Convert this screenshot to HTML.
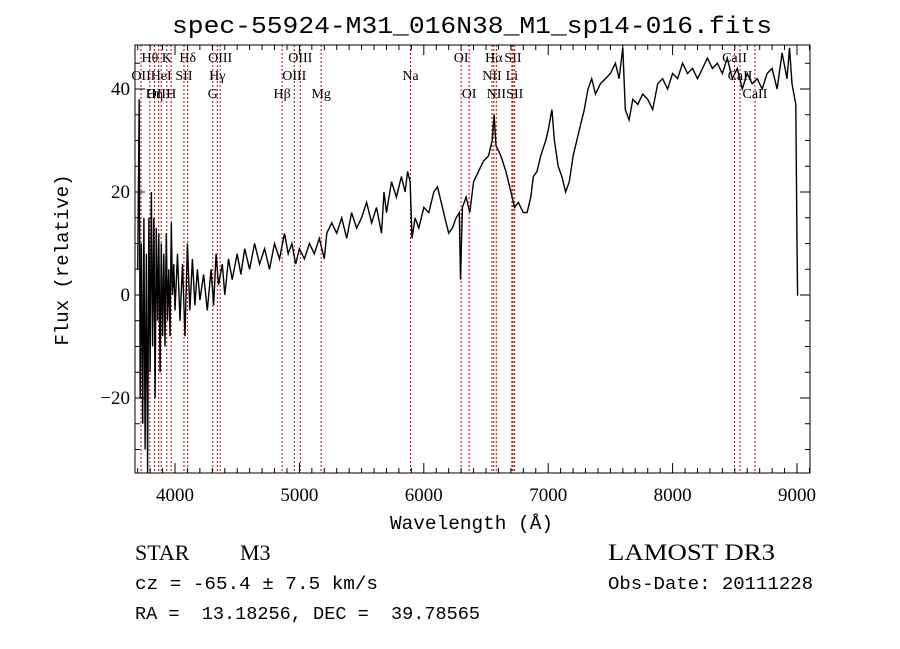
<!DOCTYPE html>
<html><head><meta charset="utf-8"><style>
body{margin:0;background:#fff}
svg{display:block}
.lab{font-family:"Liberation Serif",serif;font-size:14px;fill:#000}
.mono{font-family:"Liberation Mono",monospace;fill:#000}
.ser{font-family:"Liberation Serif",serif;fill:#000}
</style></head><body>
<svg id="c" width="900" height="649" xmlns="http://www.w3.org/2000/svg">
<rect width="900" height="649" fill="#fff"/>
<text class="mono" x="172" y="33" font-size="24" textLength="600" lengthAdjust="spacingAndGlyphs">spec-55924-M31_016N38_M1_sp14-016.fits</text>
<g id="lines"></g>
<g id="spec"></g>
<rect x="135" y="45" width="675" height="428" fill="none" stroke="#000" stroke-width="1"/>
<g id="ticks"></g>
<text class="mono" x="390" y="529" font-size="19" textLength="163" lengthAdjust="spacingAndGlyphs">Wavelength (Å)</text>
<text class="mono" x="68" y="260" font-size="19" text-anchor="middle" transform="rotate(-90 68 260)">Flux (relative)</text>
<text class="ser" x="135" y="560" font-size="22">STAR</text>
<text class="ser" x="240" y="560" font-size="22">M3</text>
<text class="mono" x="135" y="589" font-size="18" textLength="243" lengthAdjust="spacingAndGlyphs">cz = -65.4 ± 7.5 km/s</text>
<text class="mono" x="135" y="619" font-size="18" xml:space="preserve" textLength="345" lengthAdjust="spacingAndGlyphs">RA =  13.18256, DEC =  39.78565</text>
<text class="ser" x="608" y="560" font-size="23" textLength="167" lengthAdjust="spacingAndGlyphs">LAMOST DR3</text>
<text class="mono" x="608" y="589" font-size="18" textLength="205" lengthAdjust="spacingAndGlyphs">Obs-Date: 20111228</text>
</svg>
<script>
const wave=[3700,3712,3720,3730,3740,3750,3760,3770,3780,3790,3800,3810,3820,3830,3840,3850,3860,3870,3880,3890,3900,3910,3920,3930,3940,3950,3960,3970,3980,3990,4000,4020,4040,4060,4080,4100,4120,4140,4160,4180,4200,4230,4260,4290,4310,4330,4350,4380,4400,4430,4460,4500,4530,4560,4600,4640,4680,4720,4760,4800,4840,4880,4910,4940,4970,5000,5040,5080,5120,5160,5200,5220,5260,5300,5340,5380,5420,5460,5500,5540,5580,5620,5660,5680,5700,5740,5780,5820,5850,5870,5890,5905,5930,5960,6000,6040,6080,6110,6140,6170,6200,6230,6260,6285,6295,6310,6340,6370,6400,6440,6480,6520,6550,6565,6580,6620,6660,6700,6730,6760,6800,6830,6860,6880,6910,6940,6980,7000,7030,7050,7080,7110,7140,7170,7200,7230,7260,7290,7320,7350,7380,7420,7460,7500,7540,7570,7600,7620,7650,7680,7720,7760,7800,7840,7880,7920,7960,8000,8040,8080,8120,8160,8200,8240,8280,8320,8360,8400,8440,8480,8520,8560,8600,8640,8680,8720,8760,8800,8840,8880,8920,8940,8960,8990,9000,9005,9010];
const flux=[5,38,-20,10,-25,15,-30,8,-35,15,-15,20,-10,15,-20,13,-5,12,-15,10,-8,8,-10,12,-5,5,-8,14,0,6,-3,8,-5,6,-8,10,-3,7,-2,5,-1,4,-3,5,-2,8,2,6,0,7,3,8,4,9,5,10,6,9,5,10,7,12,8,10,6,9,7,10,8,11,7,12,14,12,15,11,16,13,15,18,14,17,12,20,16,22,19,23,20,24,22,11,15,13,17,16,20,21,18,15,12,13,15,16,3,17,19,16,22,24,26,27,30,35,29,27,24,20,17,18,16,16,19,23,24,27,30,32,36,30,25,23,20,22,27,30,33,36,40,42,39,41,42,43,45,42,48,36,34,38,37,39,38,36,41,42,40,43,42,45,43,44,42,44,46,44,45,43,46,42,44,40,43,41,42,40,43,44,40,47,42,48,41,37,10,0,0];
const lineWave=[3727,3798,3835,3869,3889,3934,3969,4072,4102,4304,4340,4363,4861,4959,5007,5175,5893,6300,6364,6548,6563,6583,6708,6717,6731,8498,8542,8662];
const lineNames=["OII","Hθ","Hη","OIII","HeI","K","H","SII","Hδ","G","Hγ","OIII","Hβ","OIII","OIII","Mg","Na","OI","OI","NII","Hα","NII","Li","SII","SII","CaII","CaII","CaII"];
const lineRow=[1,0,2,2,1,0,2,1,0,2,1,0,2,1,0,2,1,0,2,1,0,2,1,0,2,0,1,2];
const xTicks=[4000,5000,6000,7000,8000,9000];
const yTicks=[-20,0,20,40];
const X0=135,X1=810,Y0=45,Y1=473;
const xs=w=>175+(w-4000)*0.1244;
const ys=f=>295-f*5.15;
const NS="http://www.w3.org/2000/svg";
function mk(t,a,p){const e=document.createElementNS(NS,t);for(const k in a)e.setAttribute(k,a[k]);p.appendChild(e);return e;}
const gl=document.getElementById('lines');
lineWave.forEach((w,i)=>{
  const l=mk('line',{x1:xs(w),x2:xs(w),y1:Y0,y2:Y1,stroke:'#c00000','stroke-width':1,'stroke-dasharray':'2,2'},gl);
  
  
  const t=mk('text',{x:xs(w),y:62+lineRow[i]*18,'text-anchor':'middle',class:'lab'},gl);
  t.textContent=lineNames[i];
  
  
});
const gs=document.getElementById('spec');
let pts=[];
for(let i=0;i<wave.length;i++){let y=Math.max(Y0,Math.min(Y1,ys(flux[i])));pts.push(xs(wave[i]).toFixed(1)+','+y.toFixed(1));}
const pl=mk('polyline',{points:pts.join(' '),fill:'none',stroke:'#000','stroke-width':1.4,'stroke-linejoin':'miter'},gs);


const gt=document.getElementById('ticks');
for(let w=3700;w<=9100;w+=100){const x=xs(w);if(x<X0||x>X1)continue;const major=w%1000===0;const L=major?10:5;
  mk('line',{x1:x,x2:x,y1:Y1,y2:Y1-L,stroke:'#000'},gt);mk('line',{x1:x,x2:x,y1:Y0,y2:Y0+L,stroke:'#000'},gt);}
xTicks.forEach(w=>{const t=mk('text',{x:xs(w),y:501,'text-anchor':'middle',class:'ser','font-size':19},gt);t.textContent=w;
  
  });
for(let f=-30;f<=45;f+=5){const y=ys(f);if(y<Y0||y>Y1)continue;const major=f%20===0;const L=major?10:5;
  mk('line',{x1:X0,x2:X0+L,y1:y,y2:y,stroke:'#000'},gt);mk('line',{x1:X1,x2:X1-L,y1:y,y2:y,stroke:'#000'},gt);}
yTicks.forEach(f=>{const t=mk('text',{x:130,y:ys(f)+6,'text-anchor':'end',class:'ser','font-size':19},gt);t.textContent=f<0?'−'+(-f):f;
  
  });
</script>
</body></html>
